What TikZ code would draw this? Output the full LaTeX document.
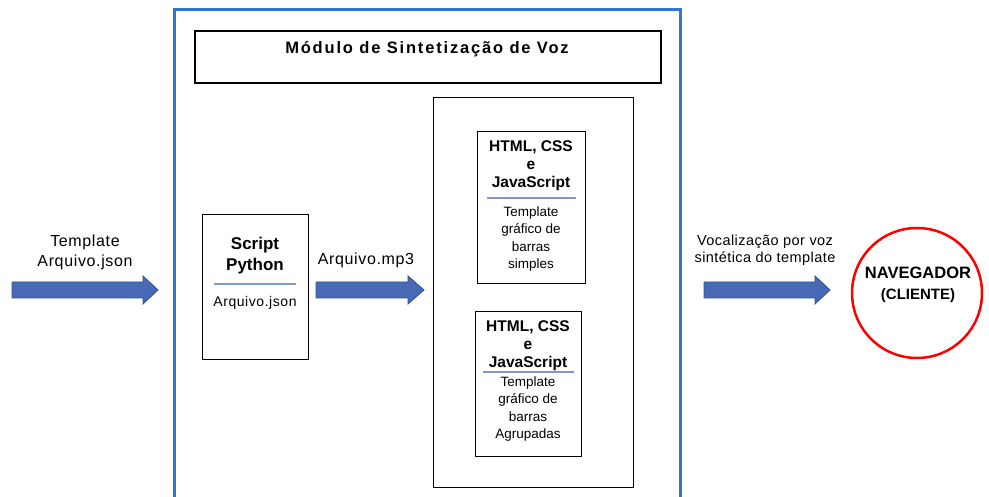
\documentclass[tikz,border=0pt]{standalone}
\usepackage{fontspec}
\setmainfont{Liberation Sans}
\usetikzlibrary{positioning}
\definecolor{frameblue}{RGB}{46,117,214}
\definecolor{arrowfill}{RGB}{72,106,182}
\definecolor{arrowline}{RGB}{47,82,143}
\definecolor{sepline}{RGB}{128,152,208}
\definecolor{circred}{RGB}{255,0,0}
\newcommand\spaced[1]{\addfontfeature{LetterSpace=#1}}
\tikzset{
  box/.style={draw=black, line width=1pt},
  lbl/.style={align=center, font=\fontsize{16}{20}\selectfont\spaced{4}, inner sep=0pt},
  blk/.style={fill=arrowfill, draw=arrowline, line width=0.8pt},
  sep/.style={draw=sepline, line width=1.2pt}
}
% #1 x start, #2 x head start, #3 x tip, #4 y centre
\newcommand\blockarrow[4]{%
  \path[blk] (#1,#4-8) -- (#2,#4-8) -- (#2,#4-14) -- (#3,#4) -- (#2,#4+14) -- (#2,#4+8) -- (#1,#4+8) -- cycle;}
\begin{document}
\begin{tikzpicture}[x=1pt,y=-1pt]
\useasboundingbox (0,0) rectangle (989,497);
% outer module frame
\draw[frameblue, line width=3pt] (174,510) -- (174,10) -- (680,10) -- (680,510);
% title box
\node[box, line width=1.6pt, minimum width=466pt, minimum height=52pt, anchor=north west, inner sep=0pt] (title) at (194,30) {};
\node[font=\bfseries\fontsize{16.5}{18}\selectfont\spaced{11}, inner sep=0pt] (titletxt) at (427,49) {Módulo de Sintetização de Voz};
% script python box
\node[box, minimum width=106pt, minimum height=145pt, anchor=north west, inner sep=0pt] (script) at (202,214) {};
\node[font=\bfseries\fontsize{17}{21}\selectfont, align=center, inner sep=0pt] (scripttxt) at (255,256) {Script\\Python};
\draw[sep] (214,284) -- (296,284);
\node[font=\fontsize{14}{16}\selectfont\spaced{4}, inner sep=0pt] (scriptjson) at (255,303) {Arquivo.json};
% right container
\node[box, minimum width=200pt, minimum height=390pt, anchor=north west, inner sep=0pt] (cont) at (433,97) {};
% top template box
\node[box, minimum width=108pt, minimum height=152pt, anchor=north west, inner sep=0pt] (tpl1) at (477,131) {};
\node[font=\bfseries\fontsize{15.5}{18}\selectfont, align=center, inner sep=0pt] (tpl1h) at (531,166) {HTML, CSS\\e\\JavaScript};
\draw[sep] (487,198) -- (576,198);
\node[font=\fontsize{13.5}{17.3}\selectfont, align=center, inner sep=0pt] (tpl1b) at (531,239) {Template\\gráfico de\\barras\\simples};
% bottom template box
\node[box, minimum width=106pt, minimum height=145pt, anchor=north west, inner sep=0pt] (tpl2) at (475,311) {};
\node[font=\bfseries\fontsize{15.5}{18}\selectfont, align=center, inner sep=0pt] (tpl2h) at (528,346) {HTML, CSS\\e\\JavaScript};
\draw[sep] (483,372) -- (574,372);
\node[font=\fontsize{13.5}{17.5}\selectfont, align=center, inner sep=0pt] (tpl2b) at (528,409) {Template\\gráfico de\\barras\\Agrupadas};
% block arrows
\blockarrow{12}{143}{158}{290}
\blockarrow{316}{408}{424}{290}
\blockarrow{704}{815}{830}{290}
% labels
\node[lbl] (lblin) at (85,252) {Template\\Arquivo.json};
\node[lbl] (lblmp3) at (366,260) {Arquivo.mp3};
\node[lbl, font=\fontsize{14.5}{17}\selectfont\spaced{3}] (lblvoz) at (765,250) {Vocalização por voz\\sintética do template};
% client circle
\node[circle, draw=circred, line width=2.5pt, minimum size=130pt, inner sep=0pt] (nav) at (917,293) {};
\node[font=\bfseries\fontsize{16.5}{18}\selectfont, inner sep=0pt] (navtxt) at (918,273) {NAVEGADOR};
\node[font=\bfseries\fontsize{15}{16}\selectfont, inner sep=0pt] (clitxt) at (918,296) {(CLIENTE)};
\end{tikzpicture}
\end{document}
